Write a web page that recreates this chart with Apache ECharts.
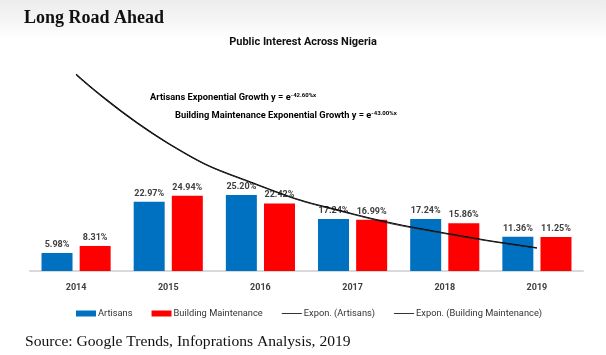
<!DOCTYPE html>
<html><head><meta charset="utf-8">
<script src="https://cdn.jsdelivr.net/npm/echarts@6/dist/echarts.min.js"></script>
<style>html,body{margin:0;padding:0;background:#fff}#c{width:606px;height:355px}</style>
</head><body><div id="c"></div>
<script>
const categories = ['2014','2015','2016','2017','2018','2019'];
const artisans = [5.98, 22.97, 25.20, 17.24, 17.24, 11.36];
const buildingMaintenance = [8.31, 24.94, 22.42, 16.99, 15.86, 11.25];
const exponArtisans = [65.3, 42.4, 28.3, 19.0, 12.6, 7.7];
const exponBuilding = [65.0, 42.2, 28.1, 18.8, 12.4, 7.6];
const seriesNames = ['Artisans','Building Maintenance','Expon. (Artisans)','Expon. (Building Maintenance)'];

const chart = echarts.init(document.getElementById('c'), null, {renderer:'canvas'});
const labelStyle = {show:true, position:'top', distance:4, fontFamily:'Roboto', fontWeight:'bold', fontSize:9, color:'#404040', formatter: p => p.value.toFixed(2) + '%'};
const lineIcon = 'path://M0,0h0.01v0.01h-0.01z M0,2.5h20v1h-20z M0,5.99h0.01v0.01h-0.01z';
chart.setOption({
  animation:false,
  backgroundColor:'#fff',
  grid:{left:30, right:23, top:60, bottom:84},
  legend:{
    top:304, left:71, itemGap:19, itemWidth:20, itemHeight:6,
    textStyle:{fontFamily:'Roboto', fontSize:9.3, color:'#333', padding:[0,0,0,-3]},
    data:[
      {name:seriesNames[0], icon:'rect'},
      {name:seriesNames[1], icon:'rect'},
      {name:seriesNames[2], icon:lineIcon, itemStyle:{color:'#333'}},
      {name:seriesNames[3], icon:lineIcon, itemStyle:{color:'#333'}}
    ]
  },
  xAxis:{type:'category', data:categories,
    axisLine:{lineStyle:{color:'#d9d9d9', width:2}}, axisTick:{show:false},
    axisLabel:{margin:12, fontFamily:'Roboto', fontWeight:'bold', fontSize:9, color:'#404040'}},
  yAxis:{type:'value', min:0, max:70, show:false, splitLine:{show:false}},
  series:[
    {name:seriesNames[0], type:'bar', data:artisans, barWidth:31, barGap:'23%', itemStyle:{color:'#0070C0'}, label:labelStyle},
    {name:seriesNames[1], type:'bar', data:buildingMaintenance, barWidth:31, barGap:'23%', itemStyle:{color:'#FF0000'}, label:labelStyle},
    {name:seriesNames[2], type:'line', data:exponArtisans, smooth:0.5, symbol:'none', z:5, lineStyle:{color:'#000', width:1.2}, itemStyle:{color:'#000'}},
    {name:seriesNames[3], type:'line', data:exponBuilding, smooth:0.5, symbol:'none', z:5, lineStyle:{color:'#222', width:1}, itemStyle:{color:'#000'}}
  ],
  graphic:[
    {type:'rect', left:0, top:0, z:-10, shape:{width:606, height:40},
      style:{fill:new echarts.graphic.LinearGradient(0,0,0,1,[{offset:0,color:'#ececec'},{offset:1,color:'#ffffff'}])}},
    {type:'text', left:24, top:9, style:{text:'Long Road Ahead', font:'bold 18px "Liberation Serif", "Times New Roman", serif', fill:'#111', shadowColor:'rgba(0,0,0,0.35)', shadowOffsetX:1, shadowOffsetY:1, shadowBlur:1}},
    {type:'text', left:'center', top:37, style:{text:'Public Interest Across Nigeria', font:'bold 11px Roboto', fill:'#111'}},
    {type:'text', left:150, top:92, style:{
      text:'{a|Artisans Exponential Growth y = e}{s|-42.60%x}',
      rich:{a:{fontFamily:'Roboto', fontWeight:'bold', fontSize:9.3, color:'#111'}, s:{fontFamily:'Roboto', fontWeight:'bold', fontSize:6, color:'#111', verticalAlign:'top', padding:[0,0,5,0]}}}},
    {type:'text', left:175, top:110, style:{
      text:'{a|Building Maintenance Exponential Growth y = e}{s|-43.00%x}',
      rich:{a:{fontFamily:'Roboto', fontWeight:'bold', fontSize:9.3, color:'#111'}, s:{fontFamily:'Roboto', fontWeight:'bold', fontSize:6, color:'#111', verticalAlign:'top', padding:[0,0,5,0]}}}},
    {type:'text', left:25, top:334, style:{text:'Source: Google Trends, Infoprations Analysis, 2019', font:'15.6px "Liberation Serif", "Times New Roman", serif', fill:'#111'}}
  ]
});
</script></body></html>
